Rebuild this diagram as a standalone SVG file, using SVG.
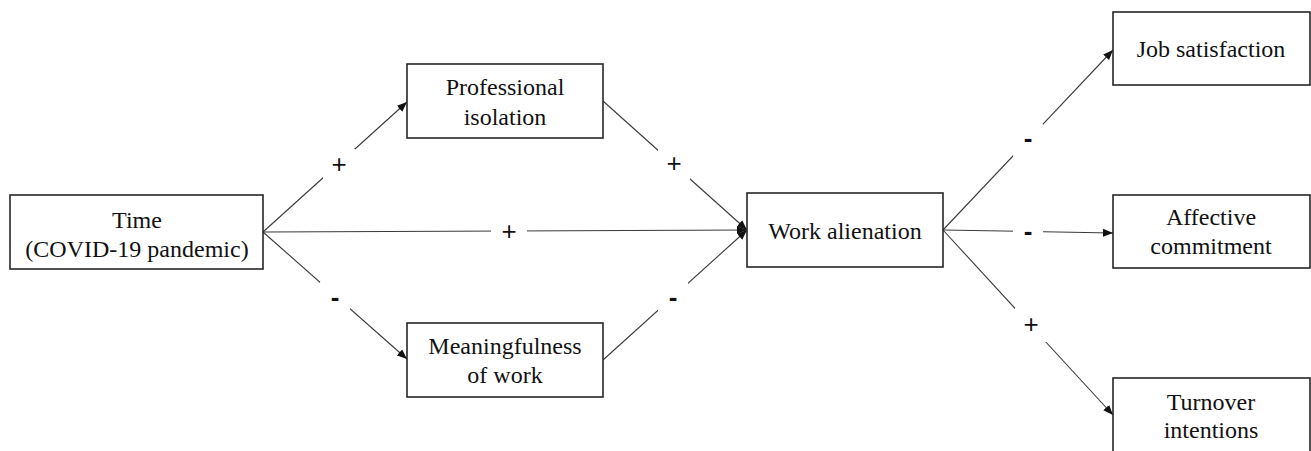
<svg xmlns="http://www.w3.org/2000/svg" width="1311" height="451" viewBox="0 0 1311 451">
<style>
.box{fill:#fff;stroke:#262626;stroke-width:1.6}
.t{font-family:"Liberation Serif","Times New Roman",serif;font-size:24px;fill:#111;text-anchor:middle}
.c{stroke:#3a3a3a;stroke-width:1.1;fill:none}
.lb{font-family:"Liberation Sans",Arial,sans-serif;font-size:26px;fill:#111;text-anchor:middle}
.mn{font-family:"Liberation Sans",Arial,sans-serif;font-size:26px;font-weight:bold;fill:#111;text-anchor:middle}
.bg{fill:#fff;stroke:none}
</style>
<defs>
<marker id="ah" viewBox="0 0 10 10" refX="10" refY="5" markerWidth="10" markerHeight="10" markerUnits="userSpaceOnUse" orient="auto">
<path d="M0,1 L10,5 L0,9 Z" fill="#111"/>
</marker>
</defs>
<rect width="1311" height="451" fill="#fff"/>
<g id="connectors">
<line class="c" x1="263" y1="232" x2="407" y2="102" marker-end="url(#ah)"/>
<line class="c" x1="263" y1="232" x2="407" y2="359" marker-end="url(#ah)"/>
<line class="c" x1="263" y1="232" x2="747" y2="230" marker-end="url(#ah)"/>
<line class="c" x1="603" y1="101" x2="747" y2="230" marker-end="url(#ah)"/>
<line class="c" x1="603" y1="360" x2="747" y2="230" marker-end="url(#ah)"/>
<line class="c" x1="943" y1="230" x2="1113" y2="50" marker-end="url(#ah)"/>
<line class="c" x1="943" y1="230" x2="1113" y2="233" marker-end="url(#ah)"/>
<line class="c" x1="943" y1="230" x2="1113" y2="415" marker-end="url(#ah)"/>
<rect class="bg" x="323" y="149" width="32" height="32"/>
<text class="lb" x="339" y="173">+</text>
<rect class="bg" x="320" y="282" width="30" height="32"/>
<text class="mn" x="335" y="306">-</text>
<rect class="bg" x="491" y="215" width="36" height="32"/>
<text class="lb" x="509" y="240">+</text>
<rect class="bg" x="658" y="149" width="32" height="32"/>
<text class="lb" x="674" y="172">+</text>
<rect class="bg" x="658" y="282" width="30" height="32"/>
<text class="mn" x="673" y="306">-</text>
<rect class="bg" x="1013" y="124" width="30" height="34"/>
<text class="mn" x="1028" y="147">-</text>
<rect class="bg" x="1013" y="215" width="30" height="32"/>
<text class="mn" x="1028" y="240">-</text>
<rect class="bg" x="1015" y="308" width="32" height="34"/>
<text class="lb" x="1031" y="333">+</text>
</g>
<g id="time">
<rect class="box" x="10" y="195" width="253" height="74"/>
<text class="t" x="137" y="228">Time</text>
<text class="t" x="137" y="257">(COVID-19 pandemic)</text>
</g>
<g id="professional-isolation">
<rect class="box" x="407" y="64" width="196" height="74"/>
<text class="t" x="505" y="95">Professional</text>
<text class="t" x="505" y="125">isolation</text>
</g>
<g id="meaningfulness">
<rect class="box" x="407" y="323" width="196" height="74"/>
<text class="t" x="505" y="354">Meaningfulness</text>
<text class="t" x="505" y="383">of work</text>
</g>
<g id="work-alienation">
<rect class="box" x="747" y="193" width="196" height="74"/>
<text class="t" x="845" y="239">Work alienation</text>
</g>
<g id="job-satisfaction">
<rect class="box" x="1113" y="12" width="197" height="73"/>
<text class="t" x="1211" y="57">Job satisfaction</text>
</g>
<g id="affective-commitment">
<rect class="box" x="1113" y="195" width="197" height="73"/>
<text class="t" x="1211" y="225">Affective</text>
<text class="t" x="1211" y="254">commitment</text>
</g>
<g id="turnover-intentions">
<rect class="box" x="1113" y="378" width="197" height="80"/>
<text class="t" x="1211" y="410">Turnover</text>
<text class="t" x="1211" y="438">intentions</text>
</g>
</svg>
